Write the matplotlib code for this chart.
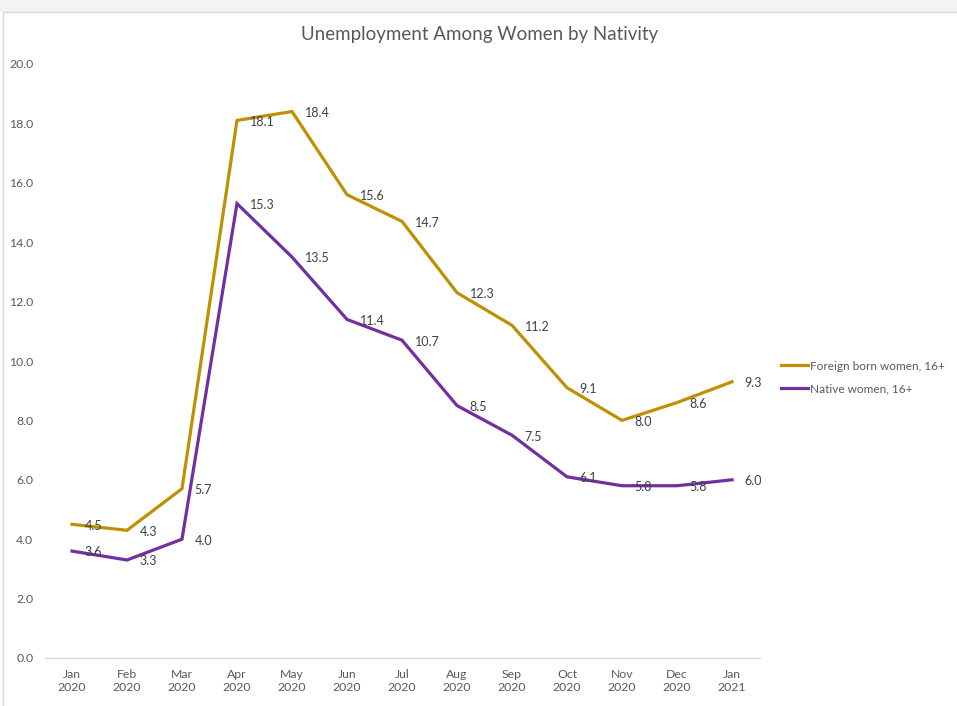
import matplotlib
matplotlib.use('Agg')
import matplotlib.pyplot as plt
from matplotlib.patches import Rectangle

months = ['Jan\n2020', 'Feb\n2020', 'Mar\n2020', 'Apr\n2020', 'May\n2020', 'Jun\n2020',
          'Jul\n2020', 'Aug\n2020', 'Sep\n2020', 'Oct\n2020', 'Nov\n2020', 'Dec\n2020',
          'Jan\n2021']
foreign_born = [4.5, 4.3, 5.7, 18.1, 18.4, 15.6, 14.7, 12.3, 11.2, 9.1, 8.0, 8.6, 9.3]
native = [3.6, 3.3, 4.0, 15.3, 13.5, 11.4, 10.7, 8.5, 7.5, 6.1, 5.8, 5.8, 6.0]
y_ticks = [0, 2, 4, 6, 8, 10, 12, 14, 16, 18, 20]

GOLD = '#BF9000'
PURPLE = '#7030A0'
TEXT = '#404040'
TICK = '#595959'

plt.rcParams['font.family'] = ['Lato', 'DejaVu Sans']

fig = plt.figure(figsize=(9.57, 7.06), dpi=100)
# light gray band on top and chart border like the spreadsheet frame
fig.patches.append(Rectangle((0, 1 - 12 / 706), 1, 12 / 706, transform=fig.transFigure,
                             facecolor='#F3F3F3', edgecolor='none'))
fig.patches.append(Rectangle((3 / 957, -0.01), 1.01, 1 - 12 / 706 + 0.01,
                             transform=fig.transFigure, facecolor='none',
                             edgecolor='#D9D9D9', linewidth=1))

ax = fig.add_axes([44.5 / 957, 1 - 658 / 706, 715 / 957, (658 - 64) / 706])
x = list(range(len(months)))

ax.plot(x, foreign_born, color=GOLD, linewidth=2.3, label='Foreign born women, 16+',
        solid_joinstyle='miter')
ax.plot(x, native, color=PURPLE, linewidth=2.3, label='Native women, 16+',
        solid_joinstyle='miter')

for xi, v in zip(x, foreign_born):
    ax.annotate(f'{v:.1f}', (xi, v), xytext=(9, -1), textcoords='offset points',
                ha='left', va='center', fontsize=9, color=TEXT)
for xi, v in zip(x, native):
    ax.annotate(f'{v:.1f}', (xi, v), xytext=(9, -1), textcoords='offset points',
                ha='left', va='center', fontsize=9, color=TEXT)

ax.set_xlim(-0.5, len(months) - 0.5)
ax.set_ylim(0, 20)
ax.set_yticks(y_ticks)
ax.set_yticklabels([f'{t:.1f}' for t in y_ticks])
ax.set_xticks(x)
ax.set_xticklabels(months)
ax.tick_params(axis='both', length=0, labelsize=8.8, colors=TICK)
ax.tick_params(axis='y', pad=8)
ax.tick_params(axis='x', pad=8)

for side in ['top', 'right', 'left']:
    ax.spines[side].set_visible(False)
ax.spines['bottom'].set_color('#D9D9D9')
ax.spines['bottom'].set_linewidth(1)

ax.set_title('Unemployment Among Women by Nativity', fontsize=13.5, color=TICK,
             pad=17, x=(480 - 44.5) / 715)

fig.legend(loc='upper left', bbox_to_anchor=(770 / 957, 1 - 350 / 706), frameon=False,
           fontsize=8.5, labelcolor=TICK, handlelength=2.3, handletextpad=0.2,
           labelspacing=1.0)

fig.savefig('out.png', dpi=100)
